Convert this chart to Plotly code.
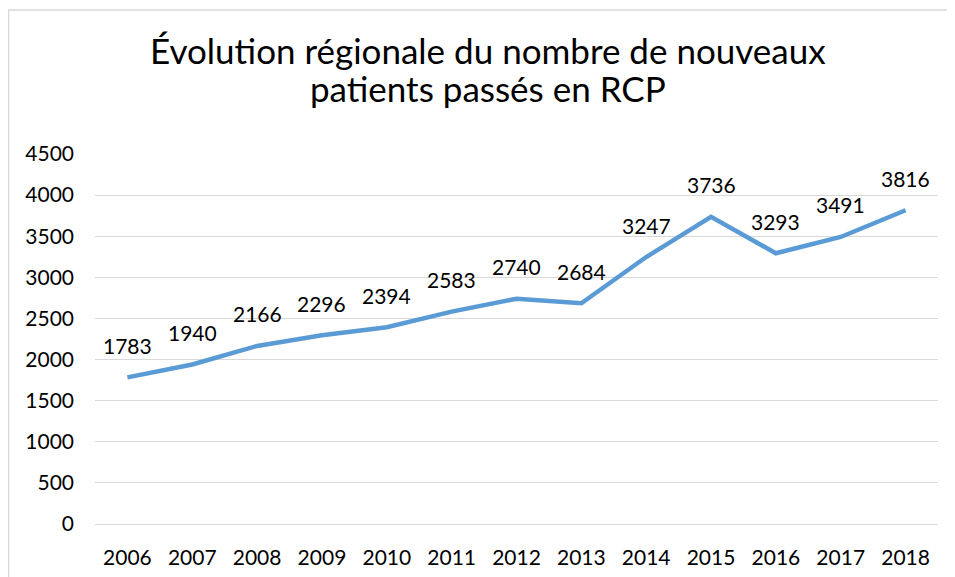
import plotly.graph_objects as go

years = ["2006", "2007", "2008", "2009", "2010", "2011", "2012", "2013", "2014", "2015", "2016", "2017", "2018"]
patients = [1783, 1940, 2166, 2296, 2394, 2583, 2740, 2684, 3247, 3736, 3293, 3491, 3816]
y_ticks = [0, 500, 1000, 1500, 2000, 2500, 3000, 3500, 4000, 4500]
title_lines = ["Évolution régionale du nombre de nouveaux", "patients passés en RCP"]

FONT = "Lato"
OFF = 8  # page body margin
W, H = 955 - OFF, 577 - OFF
L, R, T, B = 95 - OFF, 17, 154 - OFF, 53 - 1
pw = W - L - R
ph = H - T - B


def px_x(x):
    return (x - OFF - L) / pw


def px_y(y):
    return 1 + (T - (y - OFF)) / ph


fig = go.Figure()
fig.add_trace(go.Scatter(
    x=list(range(len(years))), y=patients, mode="lines",
    line=dict(color="#5B9BD5", width=4.5),
    hoverinfo="skip", showlegend=False,
))

annotations = [
    dict(x=i, y=v, xref="x", yref="y", text=str(v), showarrow=False, yshift=32,
         font=dict(family=FONT, size=21, color="#000000"))
    for i, v in enumerate(patients)
]
title_y = [50, 88]
for line, ty in zip(title_lines, title_y):
    annotations.append(dict(x=px_x(487.5), y=px_y(ty), xref="paper", yref="paper",
                            text=line, showarrow=False, xanchor="center", yanchor="middle",
                            font=dict(family=FONT, size=35, color="#000000")))

fig.update_layout(
    width=W, height=H,
    margin=dict(l=L, r=R, t=T, b=B),
    paper_bgcolor="white", plot_bgcolor="white",
    xaxis=dict(range=[-0.5, 12.5], tickvals=list(range(len(years))), ticktext=years,
               showgrid=False, showline=False, zeroline=False,
               ticks="", ticklabelstandoff=18, automargin=False,
               tickfont=dict(family=FONT, size=21, color="#000000"),
               fixedrange=True),
    yaxis=dict(range=[-12, 4500], tickvals=y_ticks, showgrid=True, gridcolor="#D9D9D9",
               gridwidth=1.3, zeroline=True, zerolinecolor="#D9D9D9", zerolinewidth=1.3,
               showline=False, ticks="",
               ticklabelstandoff=20, automargin=False,
               tickfont=dict(family=FONT, size=21, color="#000000"), fixedrange=True),
    annotations=annotations,
    shapes=[dict(type="rect", xref="paper", yref="paper",
                 x0=px_x(8.5), x1=px_x(W + 40),
                 y0=px_y(H + 40), y1=px_y(10),
                 line=dict(color="#D9D9D9", width=1.5), layer="below")],
)
fig.write_html("out.html")
